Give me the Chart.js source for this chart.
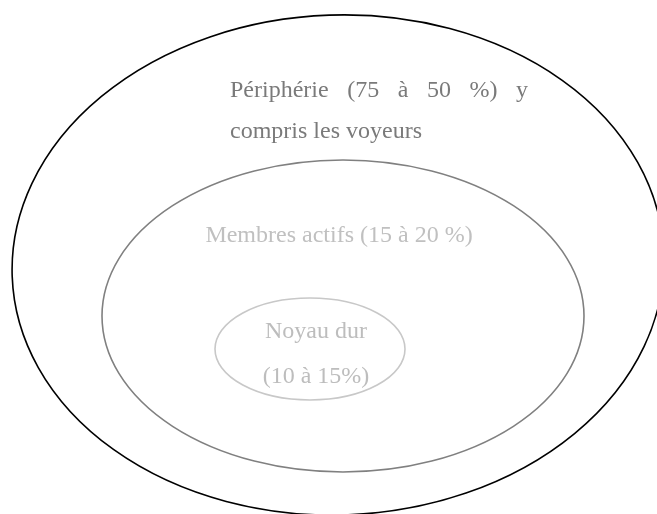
<!DOCTYPE html>
<html>
<head>
<meta charset="utf-8">
<script src="https://cdn.jsdelivr.net/npm/chart.js@4"></script>
<style>
  html, body { margin: 0; padding: 0; background: #fff; }
  #wrap { width: 657px; height: 514px; position: relative; }
</style>
</head>
<body>
<div id="wrap"><canvas id="chart"></canvas></div>
<script>
// Data: three nested ellipses (outer -> inner)
const layerLabels = [
  ['Périphérie (75 à 50 %) y', 'compris les voyeurs'],
  ['Membres actifs (15 à 20 %)'],
  ['Noyau dur', '(10 à 15%)']
];
const centerX = [338, 343, 310];
const centerY = [265, 316, 349];
const radiusX = [326, 241, 95];
const radiusY = [250, 156, 51];
const tiltDeg = [-2, 0, 0];

// Styles and label placement (not data)
const strokeColors = ['#000000', '#808080', '#c8c8c8'];
const textColors = ['#7a7a7a', '#c0c0c0', '#bdbdbd'];
const labelLayout = [
  { align: 'justify', x: 230, right: 528, y: [97, 138] },
  { align: 'center', x: 339, y: [242] },
  { align: 'center', x: 316, y: [338, 383] }
];

const ellipsePlugin = {
  id: 'ellipses',
  afterDatasetsDraw(chart) {
    const ctx = chart.ctx;
    const xs = chart.scales.x, ys = chart.scales.y;
    ctx.save();
    chart.data.datasets.forEach((ds, i) => {
      const p = ds.data[0];
      const cx = xs.getPixelForValue(p.x);
      const cy = ys.getPixelForValue(p.y);
      const rx = Math.abs(xs.getPixelForValue(p.x + ds.rx) - cx);
      const ry = Math.abs(ys.getPixelForValue(p.y + ds.ry) - cy);
      ctx.beginPath();
      ctx.ellipse(cx, cy, rx, ry, ds.tilt * Math.PI / 180, 0, Math.PI * 2);
      ctx.strokeStyle = ds.borderColor;
      ctx.lineWidth = 1.6;
      ctx.stroke();

      // labels
      const lay = labelLayout[i];
      ctx.font = '24px "Liberation Serif", "Times New Roman", serif';
      ctx.fillStyle = textColors[i];
      ctx.textBaseline = 'alphabetic';
      layerLabels[i].forEach((line, j) => {
        const ty = ys.getPixelForValue(lay.y[j]);
        if (lay.align === 'justify' && j === 0) {
          // first line is justified between left and right edges
          const words = line.split(' ');
          const left = xs.getPixelForValue(lay.x);
          const right = xs.getPixelForValue(lay.right);
          const widths = words.map(w => ctx.measureText(w).width);
          const total = widths.reduce((a, b) => a + b, 0);
          const gap = (right - left - total) / (words.length - 1);
          let px = left;
          ctx.textAlign = 'left';
          words.forEach((w, k) => {
            ctx.fillText(w, px, ty);
            px += widths[k] + gap;
          });
        } else if (lay.align === 'justify') {
          ctx.textAlign = 'left';
          ctx.fillText(line, xs.getPixelForValue(lay.x), ty);
        } else {
          ctx.textAlign = 'center';
          ctx.fillText(line, xs.getPixelForValue(lay.x), ty);
        }
      });
    });
    ctx.restore();
  }
};

new Chart(document.getElementById('chart'), {
  type: 'scatter',
  data: {
    datasets: layerLabels.map((lab, i) => ({
      label: lab.join(' '),
      data: [{ x: centerX[i], y: centerY[i] }],
      rx: radiusX[i],
      ry: radiusY[i],
      tilt: tiltDeg[i],
      borderColor: strokeColors[i],
      pointRadius: 0
    }))
  },
  options: {
    responsive: true,
    maintainAspectRatio: false,
    animation: false,
    layout: { padding: 0 },
    plugins: { legend: { display: false }, tooltip: { enabled: false } },
    scales: {
      x: { type: 'linear', min: 0, max: 657, display: false },
      y: { type: 'linear', min: 0, max: 514, reverse: true, display: false }
    }
  },
  plugins: [ellipsePlugin]
});
</script>
</body>
</html>
